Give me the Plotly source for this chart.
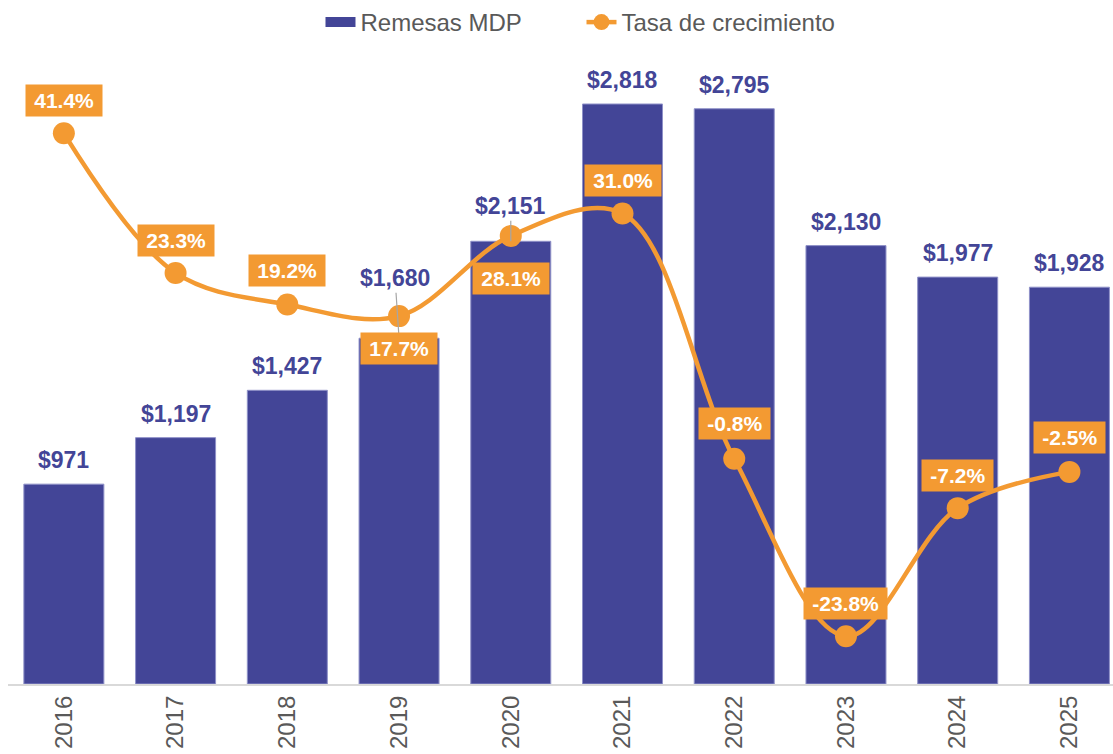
import plotly.graph_objects as go

years = ["2016", "2017", "2018", "2019", "2020", "2021", "2022", "2023", "2024", "2025"]
remesas = [971, 1197, 1427, 1680, 2151, 2818, 2795, 2130, 1977, 1928]
tasa = [41.4, 23.3, 19.2, 17.7, 28.1, 31.0, -0.8, -23.8, -7.2, -2.5]
bar_labels = ["$971", "$1,197", "$1,427", "$1,680", "$2,151", "$2,818", "$2,795", "$2,130", "$1,977", "$1,928"]
tasa_labels = ["41.4%", "23.3%", "19.2%", "17.7%", "28.1%", "31.0%", "-0.8%", "-23.8%", "-7.2%", "-2.5%"]
# vertical offset (px) of growth label relative to its point
tasa_shift = [33, 32, 34, -32, -43, 33, 35, 33, 33, 34]

BLUE = "#434597"
ORANGE = "#F39A32"
GRAY = "#595959"
FONT = "Liberation Sans, Arial, sans-serif"
TS = "\u2009"  # thin space for label box padding

fig = go.Figure()
fig.add_trace(go.Bar(
    x=years, y=remesas, name="Remesas MDP",
    marker=dict(color=BLUE, line=dict(color="#8f91c8", width=1)),
    yaxis="y", showlegend=False,
))
# legend-only swatch for the bars (wide rectangle like the reference)
fig.add_trace(go.Scatter(
    x=[None], y=[None], name="Remesas MDP", mode="lines",
    line=dict(color=BLUE, width=13), yaxis="y", showlegend=True,
))
fig.add_trace(go.Scatter(
    x=years, y=tasa, name="Tasa de crecimiento", yaxis="y2",
    mode="lines+markers",
    line=dict(color=ORANGE, width=4.5, shape="spline", smoothing=1.0),
    marker=dict(color=ORANGE, size=22),
    cliponaxis=False,
))

annotations = []
for i, (yr, v, lab) in enumerate(zip(years, remesas, bar_labels)):
    base = dict(x=i, y=v, xref="x", yref="y", text=f"<b>{lab}</b>",
                font=dict(size=23, color=BLUE, family=FONT))
    if yr == "2019":
        base.update(showarrow=True, arrowhead=0, arrowwidth=1.2, arrowcolor="#a6a6a6",
                    ax=-4, ay=-60)
    elif yr == "2020":
        base.update(showarrow=True, arrowhead=0, arrowwidth=1.2, arrowcolor="#a6a6a6",
                    ax=0, ay=-35)
    else:
        base.update(showarrow=False, yanchor="middle", yshift=24)
    annotations.append(base)

for i, (t, lab, sh) in enumerate(zip(tasa, tasa_labels, tasa_shift)):
    annotations.append(dict(x=i, y=t, xref="x", yref="y2", text=f"<b>{TS}{lab}{TS}</b>",
                            showarrow=False, yanchor="middle", yshift=sh,
                            bgcolor=ORANGE, borderpad=4,
                            font=dict(size=21, color="white", family=FONT)))

fig.update_layout(
    width=1113, height=754,
    margin=dict(l=8, r=0, t=40, b=70, autoexpand=False),
    paper_bgcolor="white", plot_bgcolor="white",
    bargap=0.284,
    showlegend=True,
    legend=dict(orientation="h", x=0.519, xanchor="center", yref="container", y=1.0, yanchor="top",
                font=dict(size=24, color=GRAY, family=FONT), traceorder="normal",
                entrywidth=216, entrywidthmode="pixels"),
    xaxis=dict(type="category", range=[-0.5, 9.39], tickangle=-90,
               tickfont=dict(size=24, color=GRAY, family=FONT),
               showline=True, linecolor="#d9d9d9", linewidth=2, ticks="", showgrid=False),
    yaxis=dict(range=[0, 3129], visible=False, showgrid=False),
    yaxis2=dict(range=[-30, 53.5], overlaying="y", visible=False, showgrid=False),
    annotations=annotations,
    font=dict(family=FONT),
)

fig.write_html("out.html", config={"displayModeBar": False},
               post_script="document.body.style.margin='0px';")
